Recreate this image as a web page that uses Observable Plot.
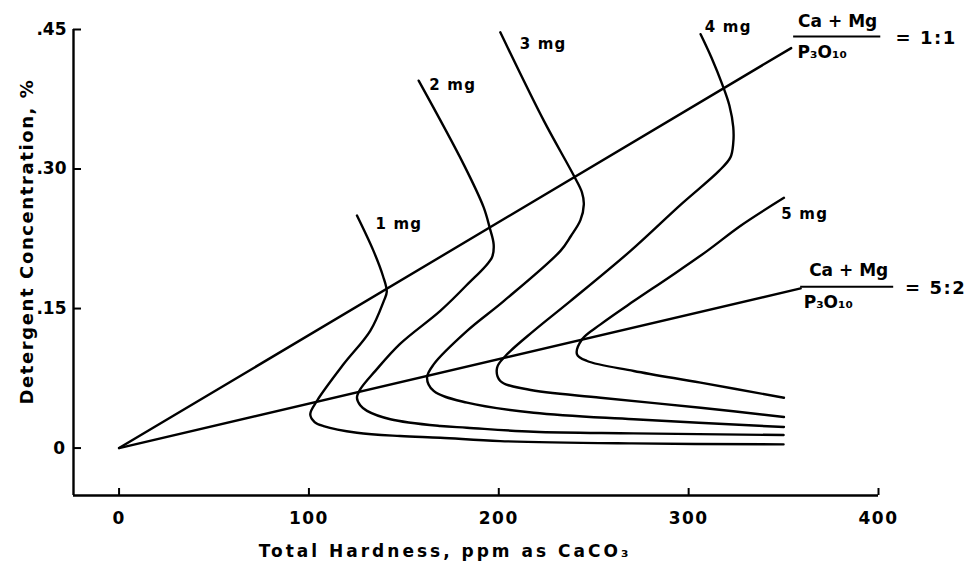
<!DOCTYPE html>
<html>
<head>
<meta charset="utf-8">
<script src="https://cdn.jsdelivr.net/npm/d3@7"></script>
<script src="https://cdn.jsdelivr.net/npm/@observablehq/plot@0.6"></script>
<style>
  html, body { margin: 0; padding: 0; background: #fff; }
  #chart svg { display: block; }
</style>
</head>
<body>
<div id="chart"></div>
<script>
// ---- data (hardness ppm as CaCO3, detergent concentration %) ----
const xTicks = [0, 100, 200, 300, 400];
const yTicks = [0, 0.15, 0.30, 0.45];
const yTickLabels = ["0", ".15", ".30", ".45"];

const curveNames = ["1 mg", "2 mg", "3 mg", "4 mg", "5 mg"];

const hard1 = [125.3, 134, 139, 141, 139.4, 132.3, 118.2, 104.2, 100.7, 103, 107.7, 125.3, 148, 169.2, 200.8, 270, 350];
const conc1 = [0.250, 0.212, 0.185, 0.168, 0.158, 0.126, 0.090, 0.0506, 0.0363, 0.028, 0.0237, 0.0165, 0.0129, 0.0111, 0.0075, 0.005, 0.004];

const hard2 = [157.8, 181.5, 192, 195.2, 197.3, 196.4, 183, 169.2, 148, 135, 127, 125.3, 127, 130.6, 142.9, 169.2, 183.2, 218.3, 270.9, 350];
const conc2 = [0.395, 0.305, 0.259, 0.237, 0.219, 0.205, 0.175, 0.1475, 0.112, 0.083, 0.063, 0.054, 0.046, 0.040, 0.031, 0.0237, 0.0219, 0.0175, 0.0158, 0.014];

const hard3 = [200.8, 223.7, 239.5, 243.8, 244.8, 243, 238, 232.5, 202.6, 183.3, 165.7, 162.2, 165.7, 183.3, 218.4, 271.1, 350.2];
const conc3 = [0.447, 0.352, 0.293, 0.275, 0.262, 0.245, 0.228, 0.212, 0.158, 0.126, 0.090, 0.0757, 0.0614, 0.0488, 0.038, 0.0309, 0.0226];

const hard4 = [306.3, 312, 317.7, 321.5, 323.5, 323.5, 322, 316, 296, 269.4, 237.7, 218.4, 203.5, 199.1, 200.8, 214.9, 253.6, 306.3, 350.2];
const conc4 = [0.445, 0.420, 0.391, 0.368, 0.345, 0.328, 0.3125, 0.298, 0.262, 0.212, 0.158, 0.126, 0.099, 0.0864, 0.0721, 0.0632, 0.0541, 0.0434, 0.0334];

const hard5 = [350.2, 327.4, 309.8, 290, 271.1, 253.6, 243.9, 241.2, 246.5, 271.1, 306.3, 350.2];
const conc5 = [0.269, 0.239, 0.212, 0.184, 0.158, 0.133, 0.117, 0.1008, 0.0936, 0.0829, 0.0703, 0.0541];

// ratio lines (Ca+Mg : P3O10)
const ratio11Hard = [0, 354];
const ratio11Conc = [0, 0.430];
const ratio52Hard = [0, 359];
const ratio52Conc = [0, 0.1716];

// curve labels (text, x, y)
const labelText = ["1 mg", "2 mg", "3 mg", "4 mg", "5 mg"];
const labelHard = [135, 163.4, 211, 308.5, 348.8];
const labelConc = [0.241, 0.390, 0.4345, 0.452, 0.2515];

// ratio annotations
const fracNum = ["Ca + Mg", "Ca + Mg"];
const fracDen = ["P\u2083O\u2081\u2080", "P\u2083O\u2081\u2080"];
const fracEq = ["= 1:1", "= 5:2"];
const fracNumX = [378.5, 384.3];
const fracNumY = [0.4585, 0.1905];
const fracBarX1 = [355.3, 359];
const fracBarX2 = [401.2, 408];
const fracBarY = [0.4424, 0.1733];
const fracDenX = [357.4, 360.6];
const fracDenY = [0.425, 0.156];
const fracEqX = [409, 414];
const fracEqY = [0.441, 0.172];

const xTitle = "Total Hardness, ppm as CaCO\u2083";
const yTitle = "Detergent Concentration, %";

// ---- build tables ----
const curves = [hard1, hard2, hard3, hard4, hard5].flatMap((hs, i) => {
  const cs = [conc1, conc2, conc3, conc4, conc5][i];
  return hs.map((h, j) => ({name: curveNames[i], x: h, y: cs[j]}));
});
const ratioLines = [
  ...ratio11Hard.map((h, j) => ({name: "1:1", x: h, y: ratio11Conc[j]})),
  ...ratio52Hard.map((h, j) => ({name: "5:2", x: h, y: ratio52Conc[j]}))
];
const labels = labelText.map((t, i) => ({t, x: labelHard[i], y: labelConc[i]}));
const fracs = fracNum.map((n, i) => ({
  num: n, den: fracDen[i], eq: fracEq[i],
  nx: fracNumX[i], ny: fracNumY[i],
  bx1: fracBarX1[i], bx2: fracBarX2[i], by: fracBarY[i],
  dx: fracDenX[i], dy: fracDenY[i],
  ex: fracEqX[i], ey: fracEqY[i]
}));

const xMin = -24, yMin = -0.051;
const FONT = "DejaVu Sans, sans-serif";

const chart = Plot.plot({
  width: 969,
  height: 565,
  marginLeft: 73,
  marginRight: 91,
  marginTop: 29,
  marginBottom: 70,
  style: {fontFamily: FONT, fontSize: "16px", color: "#000", background: "#fff"},
  x: {domain: [xMin, 400]},
  y: {domain: [yMin, 0.45]},
  marks: [
    Plot.axisX({ticks: xTicks, tickSize: 0, tickPadding: 16, tickFormat: d => String(d), fontSize: 17, fontWeight: "bold", label: null}),
    Plot.axisY({ticks: yTicks, tickSize: 0, tickPadding: 7, tickFormat: d => yTickLabels[yTicks.indexOf(d)], fontSize: 17, fontWeight: "bold", label: null}),
    // inward tick marks
    Plot.ruleX(xTicks, {x: d => d, y1: yMin, y2: yMin, insetBottom: 7, stroke: "#000", strokeWidth: 2}),
    Plot.ruleY(yTicks, {y: d => d, x1: xMin, x2: xMin, insetRight: -8, stroke: "#000", strokeWidth: 2}),
    Plot.ruleX([xMin], {stroke: "#000", strokeWidth: 2.4}),
    Plot.ruleY([yMin], {stroke: "#000", strokeWidth: 2.4}),
    Plot.line(ratioLines, {x: "x", y: "y", z: "name", stroke: "#000", strokeWidth: 2.4}),
    Plot.line(curves, {x: "x", y: "y", z: "name", stroke: "#000", strokeWidth: 2.4, curve: "catmull-rom"}),
    Plot.text(labels, {x: "x", y: "y", text: "t", textAnchor: "start", fontSize: 15, fontWeight: "bold"}),
    Plot.text(fracs, {x: "nx", y: "ny", text: "num", textAnchor: "middle", fontSize: 17, fontWeight: "bold"}),
    Plot.ruleY(fracs, {y: "by", x1: "bx1", x2: "bx2", stroke: "#000", strokeWidth: 2}),
    Plot.text(fracs, {x: "dx", y: "dy", text: "den", textAnchor: "start", fontSize: 17, fontWeight: "bold"}),
    Plot.text(fracs, {x: "ex", y: "ey", text: "eq", textAnchor: "start", fontSize: 18, fontWeight: "bold"}),
    // axis titles
    Plot.text([xTitle], {frameAnchor: "bottom", textAnchor: "middle", dy: 61, dx: -31, fontSize: 17, fontWeight: "bold"}),
    Plot.text([yTitle], {frameAnchor: "left", textAnchor: "middle", dx: -46, dy: -21, rotate: -90, fontSize: 18, fontWeight: "bold"})
  ]
});
document.getElementById("chart").appendChild(chart);

// letter spacing (lettering style of the original)
const spacing = new Map([
  [xTitle, "3px"], [yTitle, "1.6px"],
  ["0", "1.5px"], ["100", "1.5px"], ["200", "1.5px"], ["300", "1.5px"], ["400", "1.5px"],
  ["= 1:1", "1.5px"], ["= 5:2", "1.5px"],
  ["1 mg", "1.2px"], ["2 mg", "1.2px"], ["3 mg", "1.2px"], ["4 mg", "1.2px"], ["5 mg", "1.2px"]
]);
d3.select(chart).selectAll("text").each(function() {
  const s = spacing.get(this.textContent);
  if (s) this.style.letterSpacing = s;
});
</script>
</body>
</html>
